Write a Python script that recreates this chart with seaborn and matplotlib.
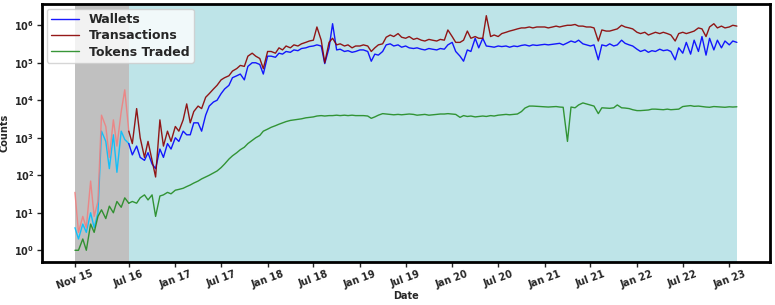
import numpy as np
import pandas as pd
import matplotlib
matplotlib.use("Agg")
import matplotlib.pyplot as plt
import seaborn as sns

# semi-monthly sample dates (1st and 15th)
dates = list(pd.date_range("2015-12-01", "2023-01-15", freq="SMS")) + [pd.Timestamp("2023-01-31")]

wallets = [
    4, 2,  # 2015
    5, 3, 10, 4, 10, 1500, 800, 150, 1200, 120, 1500, 900,
    700, 350, 600, 300, 250, 400, 200, 150, 500, 300, 700, 500,  # 2016
    1000, 800, 1500, 1200, 1200, 2500, 2500, 1500, 4000, 7000, 9000, 10000,
    15000, 20000, 25000, 40000, 45000, 50000, 35000, 80000, 100000, 100000, 90000, 50000,  # 2017
    150000, 150000, 140000, 180000, 170000, 200000, 190000, 220000, 210000, 240000, 250000, 270000,
    280000, 300000, 280000, 95000, 250000, 1100000, 220000, 230000, 200000, 210000, 190000, 200000,  # 2018
    220000, 220000, 200000, 110000, 170000, 160000, 200000, 300000, 320000, 280000, 300000, 260000,
    280000, 250000, 240000, 250000, 230000, 220000, 240000, 230000, 220000, 240000, 230000, 300000,  # 2019
    350000, 200000, 150000, 110000, 220000, 200000, 450000, 250000, 450000, 280000, 270000, 260000,
    280000, 270000, 280000, 260000, 280000, 270000, 290000, 300000, 280000, 300000, 290000, 300000,  # 2020
    310000, 300000, 310000, 320000, 330000, 300000, 340000, 380000, 350000, 400000, 320000, 300000,
    280000, 300000, 120000, 300000, 280000, 320000, 280000, 300000, 400000, 330000, 300000, 280000,  # 2021
    230000, 200000, 220000, 190000, 210000, 200000, 230000, 210000, 220000, 200000, 120000, 250000,
    180000, 350000, 170000, 400000, 200000, 500000, 160000, 450000, 220000, 400000, 250000, 380000,  # 2022
    300000, 380000, 350000,  # 2023
]

transactions = [
    35, 3,  # 2015
    8, 4, 70, 8, 20, 4000, 2000, 300, 3000, 600, 5000, 19000,
    1500, 700, 6000, 1000, 300, 800, 250, 90, 3000, 600, 1500, 800,  # 2016
    2000, 1500, 3000, 8000, 2500, 5000, 7000, 6000, 12000, 15000, 20000, 25000,
    35000, 40000, 45000, 60000, 70000, 85000, 80000, 150000, 180000, 150000, 130000, 70000,  # 2017
    200000, 200000, 180000, 250000, 220000, 280000, 250000, 300000, 280000, 320000, 350000, 380000,
    400000, 900000, 400000, 100000, 350000, 450000, 300000, 320000, 280000, 300000, 250000, 280000,  # 2018
    280000, 300000, 280000, 200000, 250000, 300000, 320000, 480000, 550000, 500000, 600000, 480000,
    450000, 500000, 420000, 450000, 400000, 380000, 420000, 400000, 380000, 420000, 400000, 750000,  # 2019
    500000, 350000, 350000, 400000, 700000, 450000, 500000, 450000, 450000, 1800000, 500000, 550000,
    500000, 600000, 650000, 700000, 750000, 800000, 850000, 850000, 900000, 850000, 900000, 900000,  # 2020
    900000, 850000, 900000, 950000, 900000, 950000, 1000000, 1000000, 1050000, 950000, 950000, 900000,
    900000, 850000, 380000, 750000, 700000, 700000, 750000, 800000, 1000000, 900000, 850000, 800000,  # 2021
    650000, 600000, 650000, 550000, 600000, 650000, 600000, 650000, 600000, 550000, 380000, 600000,
    650000, 600000, 650000, 700000, 850000, 800000, 500000, 900000, 1100000, 850000, 950000, 850000,  # 2022
    900000, 1000000, 950000,  # 2023
]

tokens = [
    1, 1,  # 2015
    2, 1, 5, 3, 8, 12, 7, 15, 10, 20, 14, 25,
    18, 20, 18, 25, 30, 22, 30, 8, 28, 30, 35, 32,  # 2016
    40, 42, 45, 50, 55, 62, 70, 80, 90, 100, 115, 130,
    160, 200, 270, 330, 400, 480, 560, 700, 850, 1000, 1150, 1500,  # 2017
    1700, 1900, 2100, 2300, 2500, 2700, 2900, 3000, 3100, 3200, 3400, 3500,
    3600, 3800, 3900, 3800, 3900, 3900, 4000, 3900, 4000, 3900, 4000, 3900,  # 2018
    3900, 3900, 3800, 3300, 3600, 4000, 4400, 4300, 4200, 4100, 4200, 4100,
    4200, 4300, 4200, 4000, 4100, 4200, 4000, 4100, 4200, 4300, 4300, 4400,  # 2019
    4300, 4200, 3500, 3900, 3700, 3800, 3600, 3700, 3800, 3700, 3900, 3800,
    4000, 4100, 4200, 4100, 4200, 4300, 5000, 6200, 7000, 7000, 6900, 6800,  # 2020
    6700, 6600, 6700, 6800, 6600, 6500, 800, 6600, 6300, 7500, 8500, 8000,
    7500, 7000, 4400, 6300, 6200, 6100, 6300, 7500, 6300, 6200, 6000, 5600,  # 2021
    5300, 5300, 5400, 5500, 5800, 5800, 5700, 5600, 5800, 5600, 5700, 5800,
    6800, 7000, 7200, 6900, 7000, 6800, 6600, 6500, 6800, 6700, 6600, 6500,  # 2022
    6700, 6600, 6700,  # 2023
]

series_names = ["Wallets", "Transactions", "Tokens Traded"]
main_colors = ["blue", "darkred", "forestgreen"]
early_colors = ["deepskyblue", "lightcoral", "forestgreen"]

launch_date = pd.Timestamp("2016-07-01")

tick_dates = ["2015-12-01", "2016-07-01", "2017-01-01", "2017-07-01", "2018-01-01",
              "2018-07-01", "2019-01-01", "2019-07-01", "2020-01-01", "2020-07-01",
              "2021-01-01", "2021-07-01", "2022-01-01", "2022-07-01", "2023-01-01"]
tick_labels = ["Nov 15", "Jul 16", "Jan 17", "Jul 17", "Jan 18", "Jul 18", "Jan 19",
               "Jul 19", "Jan 20", "Jul 20", "Jan 21", "Jul 21", "Jan 22", "Jul 22", "Jan 23"]

sns.set_style("white")
plt.rcParams["font.family"] = ["DejaVu Sans"]
plt.rcParams["font.weight"] = "bold"

df = pd.DataFrame({"date": dates, "Wallets": wallets,
                   "Transactions": transactions, "Tokens Traded": tokens})
early = df[df["date"] <= launch_date]
late = df[df["date"] >= launch_date]

fig, ax = plt.subplots(figsize=(7.75, 3.05), dpi=100)
fig.subplots_adjust(left=0.054, right=0.9935, bottom=0.141, top=0.987)

ax.axvspan(df["date"].iloc[0], launch_date, color="#c0c0c0", zorder=0, lw=0)
ax.axvspan(launch_date, df["date"].iloc[-1], color="#bee4e8", zorder=0, lw=0)

for name, ce, cm in zip(series_names, early_colors, main_colors):
    sns.lineplot(data=early, x="date", y=name, ax=ax, color=ce, lw=1.0, alpha=0.9)
    sns.lineplot(data=late, x="date", y=name, ax=ax, color=cm, lw=1.0, alpha=0.9, label=name)

ax.set_yscale("log")
ax.yaxis.set_minor_locator(matplotlib.ticker.NullLocator())
ax.set_xticks(pd.to_datetime(tick_dates))
ax.set_xticklabels(tick_labels, rotation=20, fontsize=7, fontweight="bold")
for t in ax.get_yticklabels():
    t.set_fontsize(7)
    t.set_fontweight("bold")
ax.tick_params(axis="x", length=3.5, width=1, direction="out", bottom=True, pad=1.5)
ax.tick_params(axis="y", length=3.5, width=1, direction="out", left=True, pad=2)
ax.set_xlabel("Date", fontsize=7, fontweight="bold", labelpad=0)
ax.set_ylabel("Counts", fontsize=7, fontweight="bold", labelpad=3)

for s in ax.spines.values():
    s.set_color("black")
    s.set_linewidth(2)

leg = ax.legend(loc="upper left", prop={"weight": "bold", "size": 9},
                framealpha=0.8, borderaxespad=0.4, handlelength=2.2,
                labelspacing=0.25, borderpad=0.35)
for line in leg.get_lines():
    line.set_linewidth(1.0)

fig.savefig("out.png", dpi=100)
